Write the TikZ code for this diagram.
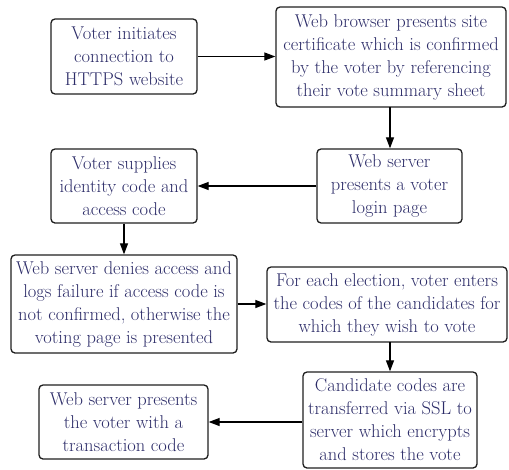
\documentclass[tikz,border=0pt]{standalone}
\usetikzlibrary{arrows.meta,calc}
\definecolor{txt}{RGB}{44,44,104}
\definecolor{edge}{RGB}{30,30,30}
\begin{document}
\begin{tikzpicture}[x=1pt,y=-1pt,
  box/.style={draw=edge, line width=1.3pt, rounded corners=4pt, align=center,
    text=txt, inner sep=0pt, font=\fontsize{18.5}{23}\selectfont},
  arr/.style={draw=black, line width=1.2pt, -{Triangle[length=11pt,width=8pt]}}]
\useasboundingbox (0,0) rectangle (509,469);
\node[box, minimum width=146pt, minimum height=75pt] (n1) at (124,56.5)
  {Voter initiates\\connection to\\HTTPS website};
\node[box, minimum width=230pt, minimum height=100pt] (n2) at (391,57)
  {Web browser presents site\\certificate which is confirmed\\by the voter by referencing\\their vote summary sheet};
\node[box, minimum width=145pt, minimum height=74pt] (n3) at (389.5,186)
  {Web server\\presents a voter\\login page};
\node[box, minimum width=146pt, minimum height=74pt] (n4) at (124,186)
  {Voter supplies\\identity code and\\access code};
\node[box, minimum width=226pt, minimum height=98pt] (n5) at (124,304)
  {Web server denies access and\\logs failure if access code is\\not confirmed, otherwise the\\voting page is presented};
\node[box, minimum width=240pt, minimum height=75pt] (n6) at (387,304.5)
  {For each election, voter enters\\the codes of the candidates for\\which they wish to vote};
\node[box, minimum width=174pt, minimum height=96pt] (n7) at (390,420)
  {Candidate codes are\\transferred via SSL to\\server which encrypts\\and stores the vote};
\node[box, minimum width=169pt, minimum height=74pt] (n8) at (123.5,422)
  {Web server presents\\the voter with a\\transaction code};
\coordinate (c2) at (390,107);
\coordinate (c6) at (390,342);
\draw[arr] (n1.east) -- (n2.west |- n1.east);
\draw[arr] (c2) -- (c2 |- n3.north);
\draw[arr] (n3.west) -- (n4.east |- n3.west);
\draw[arr] (n4.south) -- (n5.north);
\draw[arr] (n5.east) -- (n6.west |- n5.east);
\draw[arr] (c6) -- (c6 |- n7.north);
\draw[arr] (n7.west |- n8.east) -- (n8.east);
\end{tikzpicture}
\end{document}
